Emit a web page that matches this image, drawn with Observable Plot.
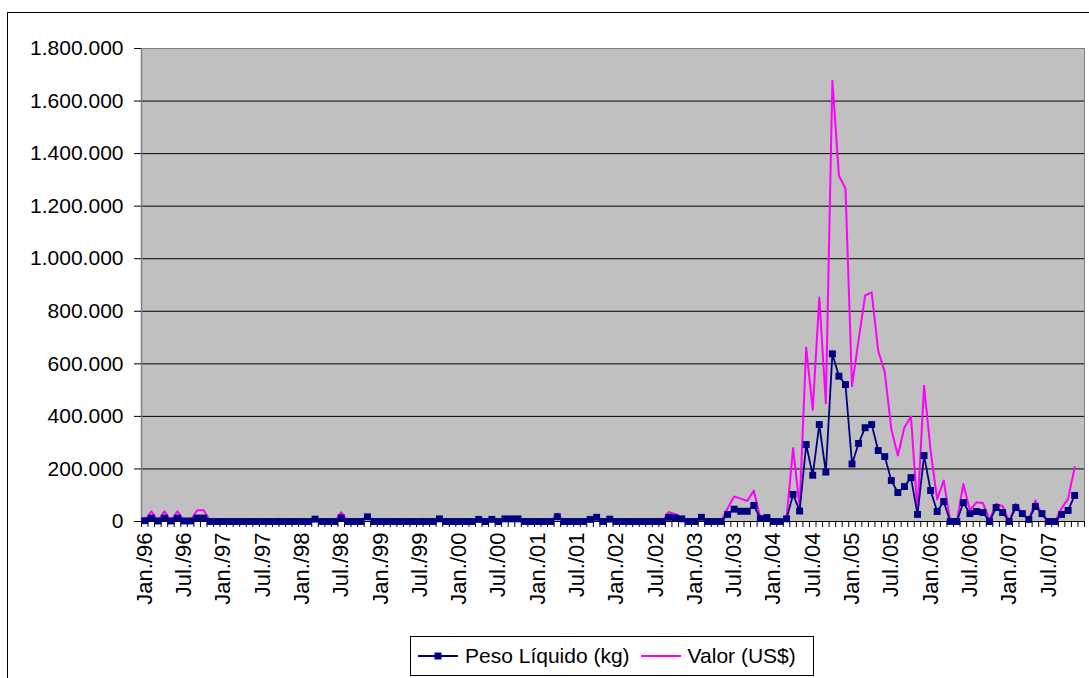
<!DOCTYPE html>
<html>
<head>
<meta charset="utf-8">
<script src="https://cdn.jsdelivr.net/npm/d3@7"></script>
<script src="https://cdn.jsdelivr.net/npm/@observablehq/plot@0.6"></script>
<style>
  html, body { margin: 0; padding: 0; background: #fff; }
  #wrap { position: relative; width: 1089px; height: 678px; overflow: hidden; font-family: "Liberation Sans", Arial, sans-serif; }
  #outer { position: absolute; left: 7px; top: 12px; width: 1200px; height: 800px; border-left: 1px solid #000; border-top: 1px solid #000; box-sizing: border-box; }
  #chart { position: absolute; left: 0; top: 0; }
  #legend { position: absolute; left: 410px; top: 636px; width: 404px; height: 40px; border: 1px solid #000; box-sizing: border-box; background: #fff; display: flex; align-items: center; font-size: 21px; color: #000; }
  #legend .item { display: flex; align-items: center; margin-left: 6px; }
  #legend svg { margin-right: 6px; }
</style>
</head>
<body>
<div id="wrap">
  <div id="outer"></div>
  <div id="chart"></div>
  <div id="legend"></div>
</div>
<script>
// Categories: monthly, Jan./96 .. Dec./07
const monthNames = ["Jan.","Fev.","Mar.","Abr.","Mai.","Jun.","Jul.","Ago.","Set.","Out.","Nov.","Dez."];
const years = ["96","97","98","99","00","01","02","03","04","05","06","07"];
const months = years.flatMap(y => monthNames.map(m => m + "/" + y));

// Tick labels shown on the category axis
const tickLabels = ["Jan./96","Jul./96","Jan./97","Jul./97","Jan./98","Jul./98","Jan./99","Jul./99",
  "Jan./00","Jul./00","Jan./01","Jul./01","Jan./02","Jul./02","Jan./03","Jul./03","Jan./04","Jul./04",
  "Jan./05","Jul./05","Jan./06","Jul./06","Jan./07","Jul./07"];

const yTicks = [0, 200000, 400000, 600000, 800000, 1000000, 1200000, 1400000, 1600000, 1800000];

// Peso Líquido (kg), one value per month
const peso = [
  3000, 13000, 2000, 13000, 2000, 13000, 2000, 2000, 13000, 13000, 0, 0,          // 1996
  0, 0, 0, 0, 0, 0, 0, 0, 0, 0, 0, 0,                                           // 1997
  0, 0, 9000, 0, 0, 0, 14000, 0, 0, 0, 18000, 0,                                // 1998
  0, 0, 0, 0, 0, 0, 0, 0, 0, 10000, 0, 0,                                       // 1999
  0, 0, 0, 8000, 0, 8000, 0, 10000, 10000, 10000, 0, 0,                         // 2000
  0, 0, 0, 18000, 0, 0, 0, 0, 8000, 16000, 0, 9000,                             // 2001
  0, 0, 0, 0, 0, 0, 0, 0, 16000, 14000, 10000, 0,                               // 2002
  0, 16000, 0, 0, 0, 27000, 47000, 39000, 39000, 61000, 11000, 15000,           // 2003
  0, 0, 10000, 103000, 40000, 293000, 176000, 369000, 188000, 638000, 553000, 521000, // 2004
  219000, 297000, 357000, 369000, 270000, 247000, 156000, 110000, 133000, 167000, 27000, 251000, // 2005
  118000, 38000, 76000, 0, 0, 72000, 30000, 38000, 34000, 0, 53000, 34000,      // 2006
  0, 53000, 30000, 8000, 57000, 30000, 0, 0, 27000, 42000, 99000, null          // 2007
];

// Valor (US$), one value per month
const valor = [
  3000, 39000, 3000, 39000, 3000, 39000, 3000, 5000, 43000, 43000, 0, 0,        // 1996
  0, 0, 0, 0, 0, 0, 0, 0, 0, 0, 0, 0,                                           // 1997
  0, 0, 10000, 0, 0, 0, 35000, 0, 0, 0, 25000, 0,                               // 1998
  0, 0, 0, 0, 0, 0, 0, 0, 0, 11000, 0, 0,                                       // 1999
  0, 0, 0, 9000, 0, 9000, 0, 11000, 11000, 11000, 0, 0,                         // 2000
  0, 0, 0, 30000, 0, 0, 0, 0, 9000, 17000, 0, 10000,                            // 2001
  0, 0, 0, 0, 0, 0, 0, 0, 36000, 28000, 15000, 0,                               // 2002
  0, 18000, 0, 0, 0, 50000, 95000, 87000, 78000, 118000, 12000, 18000,          // 2003
  0, 2000, 12000, 280000, 55000, 662000, 425000, 852000, 450000, 1677000, 1316000, 1267000, // 2004
  515000, 690000, 860000, 872000, 650000, 568000, 352000, 251000, 359000, 399000, 40000, 517000, // 2005
  270000, 84000, 156000, 0, 0, 143000, 42000, 73000, 70000, 5000, 67000, 58000, // 2006
  0, 67000, 30000, 5000, 80000, 25000, 0, 0, 50000, 87000, 207000, null         // 2007
];

const pesoData = months.map((m, i) => ({i, m, v: peso[i]}));
const valorData = months.map((m, i) => ({i, m, v: valor[i]}));

const fmt = d3.formatLocale({decimal: ",", thousands: ".", grouping: [3], currency: ["", ""]}).format(",d");

const tickIdx = tickLabels.map(l => months.indexOf(l));
const boundaries = d3.range(months.length + 1).map(k => k - 0.5);

const chart = Plot.plot({
  width: 1089,
  height: 630,
  marginLeft: 141,
  marginRight: 5,
  marginTop: 48,
  marginBottom: 109,
  style: {fontFamily: "'Liberation Sans', Arial, sans-serif", fontSize: "21px", background: "transparent", color: "#000"},
  x: {domain: [-0.5, months.length - 0.5], axis: null, label: null},
  y: {domain: [0, 1800000], axis: null, label: null},
  marks: [
    Plot.frame({fill: "#C0C0C0", stroke: "#808080"}),
    Plot.gridY(yTicks.slice(1, -1), {stroke: "#000", strokeOpacity: 1, strokeWidth: 1}),
    Plot.ruleX([-0.5], {stroke: "#808080", strokeWidth: 1.5}),
    Plot.axisY(yTicks, {label: null, tickSize: 7, tickPadding: 11, tickFormat: fmt, fontSize: 21, stroke: "#000", strokeOpacity: 1}),
    Plot.axisX(boundaries, {label: null, tickSize: 6, tickFormat: () => "", stroke: "#000", strokeOpacity: 1}),
    Plot.axisX(tickIdx, {label: null, tickSize: 0, tickPadding: 11, tickRotate: -90, tickFormat: i => months[i], fontSize: 22}),
    Plot.ruleY([0], {stroke: "#000", strokeWidth: 1}),
    Plot.line(valorData, {x: "i", y: "v", stroke: "#FF00FF", strokeWidth: 2}),
    Plot.line(pesoData, {x: "i", y: "v", stroke: "#000080", strokeWidth: 1.8}),
    Plot.dot(pesoData.filter(d => d.v != null), {x: "i", y: "v", symbol: "square", r: 3.9, fill: "#000080", stroke: "none"})
  ]
});
document.getElementById("chart").appendChild(chart);

// Legend
const legend = document.getElementById("legend");
legend.innerHTML = `
  <div class="item">
    <svg width="42" height="12"><line x1="1" y1="6" x2="41" y2="6" stroke="#000080" stroke-width="1.8"/><rect x="17.5" y="2.5" width="7" height="7" fill="#000080"/></svg>
    <span>Peso Líquido (kg)</span>
  </div>
  <div class="item" style="margin-left:10px">
    <svg width="42" height="12"><line x1="1" y1="6" x2="41" y2="6" stroke="#FF00FF" stroke-width="2"/></svg>
    <span>Valor (US$)</span>
  </div>`;
</script>
</body>
</html>
